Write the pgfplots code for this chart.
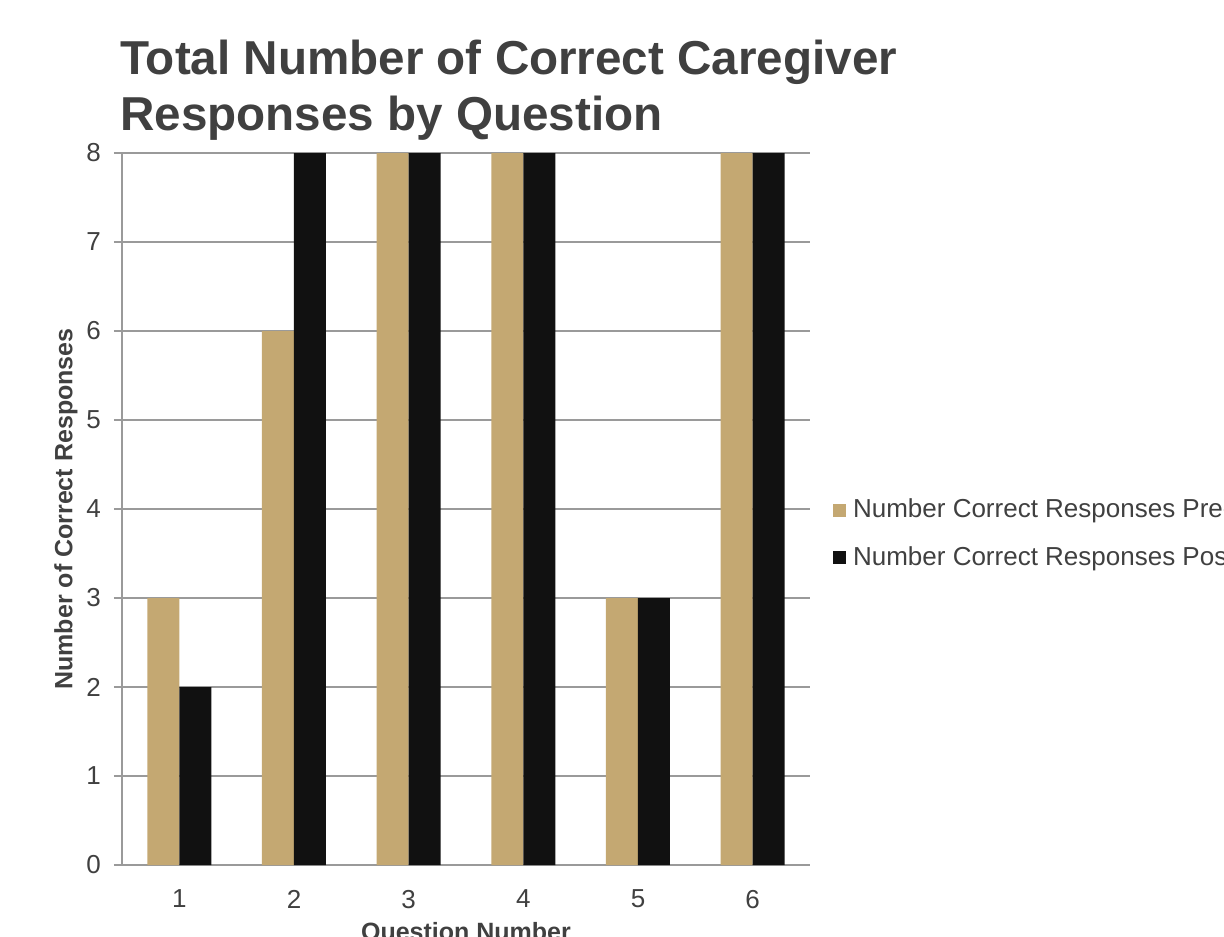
\documentclass[border=0pt]{standalone}
\usepackage{pgfplots}
\pgfplotsset{compat=1.18}
\usepackage{fontspec}
\setmainfont{Liberation Sans}
\definecolor{gold}{HTML}{C4A872}
\definecolor{blk}{HTML}{111111}
\definecolor{gridc}{HTML}{9A9A9A}
\definecolor{txt}{HTML}{404040}
\begin{document}
\begin{tikzpicture}
\begin{axis}[
  at={(0,0)}, anchor=south west,
  width=344pt, height=356pt, scale only axis,
  ybar=0pt, bar width=16pt,
  xmin=0.5, xmax=6.5, ymin=0, ymax=8,
  xtick={1,2,3,4,5,6},
  major x tick style={draw=none},
  extra x ticks={0.5,1.5,2.5,3.5,4.5,5.5,6.5},
  extra x tick labels={},
  extra x tick style={major tick length=5.5pt, tick style={draw=gridc, line width=0.8pt}, grid=none},
  ytick={0,1,...,8},
  ymajorgrids, grid style={gridc, line width=0.8pt},
  axis x line*=bottom, axis y line*=left,
  axis line style={gridc, line width=0.8pt, -},
  tick align=outside,
  major tick length=4pt,
  ytick style={gridc, line width=0.8pt},
  xtick style={gridc},
  tick label style={font=\fontsize{13}{15}\selectfont, text=txt},
  /pgf/number format/assume math mode=true,
  xticklabel style={yshift=-5pt},
  yticklabel style={xshift=-3pt},
  title={Total Number of Correct Caregiver\\Responses by Question},
  title style={font=\fontsize{23.8}{28}\selectfont\bfseries, text=txt, align=left,
    at={(rel axis cs:0,1)}, anchor=south west, inner sep=0pt, yshift=0pt, xshift=-1pt},
  xlabel={Question Number},
  xlabel style={font=\fontsize{12.5}{14}\selectfont\bfseries, text=txt,
    at={(axis description cs:0.5,-0.1067)}, anchor=base},
  ylabel={Number of Correct Responses},
  ylabel style={font=\fontsize{12.5}{14}\selectfont\bfseries, text=txt,
    at={(axis description cs:-0.0815,0.5)}, anchor=center},
  legend style={draw=none, fill=none, at={(1.033,0.465)}, anchor=west,
    font=\fontsize{13}{15}\selectfont, text=txt, inner sep=0pt, row sep=9pt,
    /tikz/every odd column/.style={column sep=1.5pt}},
  legend cell align=left,
  legend image code/.code={\fill[#1] (0pt,-3.25pt) rectangle (6.5pt,3.25pt);},
]
\addplot[fill=gold, draw=none] coordinates {(1,3) (2,6) (3,8) (4,8) (5,3) (6,8)};
\addplot[fill=blk, draw=none] coordinates {(1,2) (2,8) (3,8) (4,8) (5,3) (6,8)};
\legend{Number Correct Responses Pre-Test, Number Correct Responses Post-Test}
\end{axis}
\pgfresetboundingbox
\path[use as bounding box] (-61pt,-35.5pt) rectangle (551pt,432.5pt);
\end{tikzpicture}
\end{document}
